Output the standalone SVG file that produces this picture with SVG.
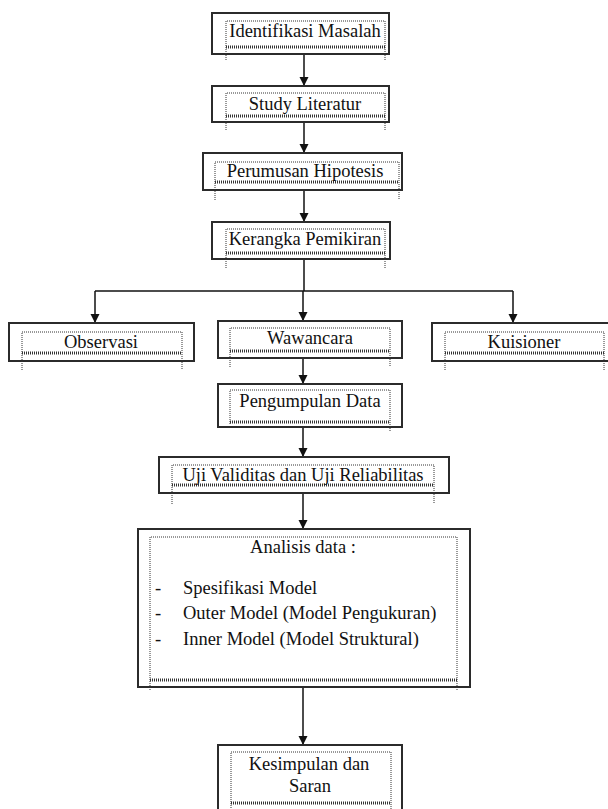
<svg xmlns="http://www.w3.org/2000/svg" width="608" height="809" viewBox="0 0 608 809">
<defs>
<style>
.box{fill:#fff;stroke:#2b2b2b;stroke-width:2}
.dot{fill:none;stroke:#333;stroke-width:1;stroke-dasharray:1 1}
.dotb{fill:none;stroke:#333;stroke-width:3;stroke-dasharray:1 1}
.t{font-family:"Liberation Serif","Times New Roman",serif;font-size:18.5px;fill:#111;text-anchor:middle}
.tl{font-family:"Liberation Serif","Times New Roman",serif;font-size:18.5px;fill:#111}
.c{fill:none;stroke:#111;stroke-width:1.5}
</style>
<marker id="ah" viewBox="0 0 10 10" refX="10" refY="5" markerWidth="6" markerHeight="6.5" markerUnits="strokeWidth" orient="auto">
<path d="M0,0 L10,5 L0,10 z" fill="#111"/>
</marker>
</defs>
<rect width="608" height="809" fill="#fff"/>
<g id="connectors">
<path class="c" d="M304,54 V86" marker-end="url(#ah)"/>
<path class="c" d="M304,122 V153" marker-end="url(#ah)"/>
<path class="c" d="M304,190 V222" marker-end="url(#ah)"/>
<path class="c" d="M304,259 V291"/>
<path class="c" d="M95,291 H513"/>
<path class="c" d="M95,291 V323" marker-end="url(#ah)"/>
<path class="c" d="M303,291 V321" marker-end="url(#ah)"/>
<path class="c" d="M513,291 V323" marker-end="url(#ah)"/>
<path class="c" d="M303,358 V384" marker-end="url(#ah)"/>
<path class="c" d="M303,427 V457" marker-end="url(#ah)"/>
<path class="c" d="M303,493 V529" marker-end="url(#ah)"/>
<path class="c" d="M303,687 V745" marker-end="url(#ah)"/>
</g>
<g id="identifikasi">
<rect class="box" x="212" y="13" width="177" height="41"/>
<path class="dot" d="M226,60 V21 H385 V60"/>
<path class="dotb" d="M226,47 H385"/>
<text class="t" x="305" y="37">Identifikasi Masalah</text>
</g>
<g id="study">
<rect class="box" x="212" y="86" width="177" height="36"/>
<path class="dot" d="M226,130 V93 H385 V130"/>
<path class="dotb" d="M226,116 H385"/>
<text class="t" x="305" y="110">Study Literatur</text>
</g>
<g id="perumusan">
<rect class="box" x="203" y="153" width="199" height="37"/>
<path class="dot" d="M215,200 V162 H399 V200"/>
<path class="dotb" d="M215,182 H399"/>
<text class="t" x="305" y="177">Perumusan Hipotesis</text>
</g>
<g id="kerangka">
<rect class="box" x="212" y="222" width="178" height="37"/>
<path class="dot" d="M226,268 V229 H385 V268"/>
<path class="dotb" d="M226,253 H385"/>
<text class="t" x="305" y="245">Kerangka Pemikiran</text>
</g>
<g id="observasi">
<rect class="box" x="9" y="323" width="185" height="38"/>
<path class="dot" d="M22,370 V332 H182 V370"/>
<path class="dotb" d="M22,353 H182"/>
<text class="t" x="101" y="348">Observasi</text>
</g>
<g id="wawancara">
<rect class="box" x="218" y="321" width="184" height="37"/>
<path class="dot" d="M230,367 V328 H390 V367"/>
<path class="dotb" d="M230,351 H390"/>
<text class="t" x="310" y="344">Wawancara</text>
</g>
<g id="kuisioner">
<rect class="box" x="432" y="323" width="184" height="38"/>
<path class="dot" d="M445,370 V332 H604 V370"/>
<path class="dotb" d="M445,353 H604"/>
<text class="t" x="524" y="348">Kuisioner</text>
</g>
<g id="pengumpulan">
<rect class="box" x="218" y="384" width="184" height="43"/>
<path class="dot" d="M230,424 V390 H390 V431"/>
<path class="dotb" d="M230,422 H390"/>
<text class="t" x="310" y="407">Pengumpulan Data</text>
</g>
<g id="uji">
<rect class="box" x="159" y="457" width="290" height="36"/>
<path class="dot" d="M172,504 V465 H434 V504"/>
<path class="dotb" d="M172,485 H434"/>
<text class="t" x="303" y="481">Uji Validitas dan Uji Reliabilitas</text>
</g>
<g id="analisis">
<rect class="box" x="138" y="529" width="332" height="158"/>
<path class="dot" d="M150,690 V537 H457 V690"/>
<path class="dotb" d="M150,680 H457"/>
<text class="t" x="303" y="553">Analisis data :</text>
<text class="tl" x="155" y="594">-</text>
<text class="tl" x="183" y="594">Spesifikasi Model</text>
<text class="tl" x="155" y="619">-</text>
<text class="tl" x="183" y="619">Outer Model (Model Pengukuran)</text>
<text class="tl" x="155" y="645">-</text>
<text class="tl" x="183" y="645">Inner Model (Model Struktural)</text>
</g>
<g id="kesimpulan">
<rect class="box" x="218" y="745" width="184" height="70"/>
<path class="dot" d="M231,812 V752 H391 V812"/>
<path class="dotb" d="M231,803 H391"/>
<text class="t" x="309" y="770">Kesimpulan dan</text>
<text class="t" x="310" y="792">Saran</text>
</g>
</svg>
